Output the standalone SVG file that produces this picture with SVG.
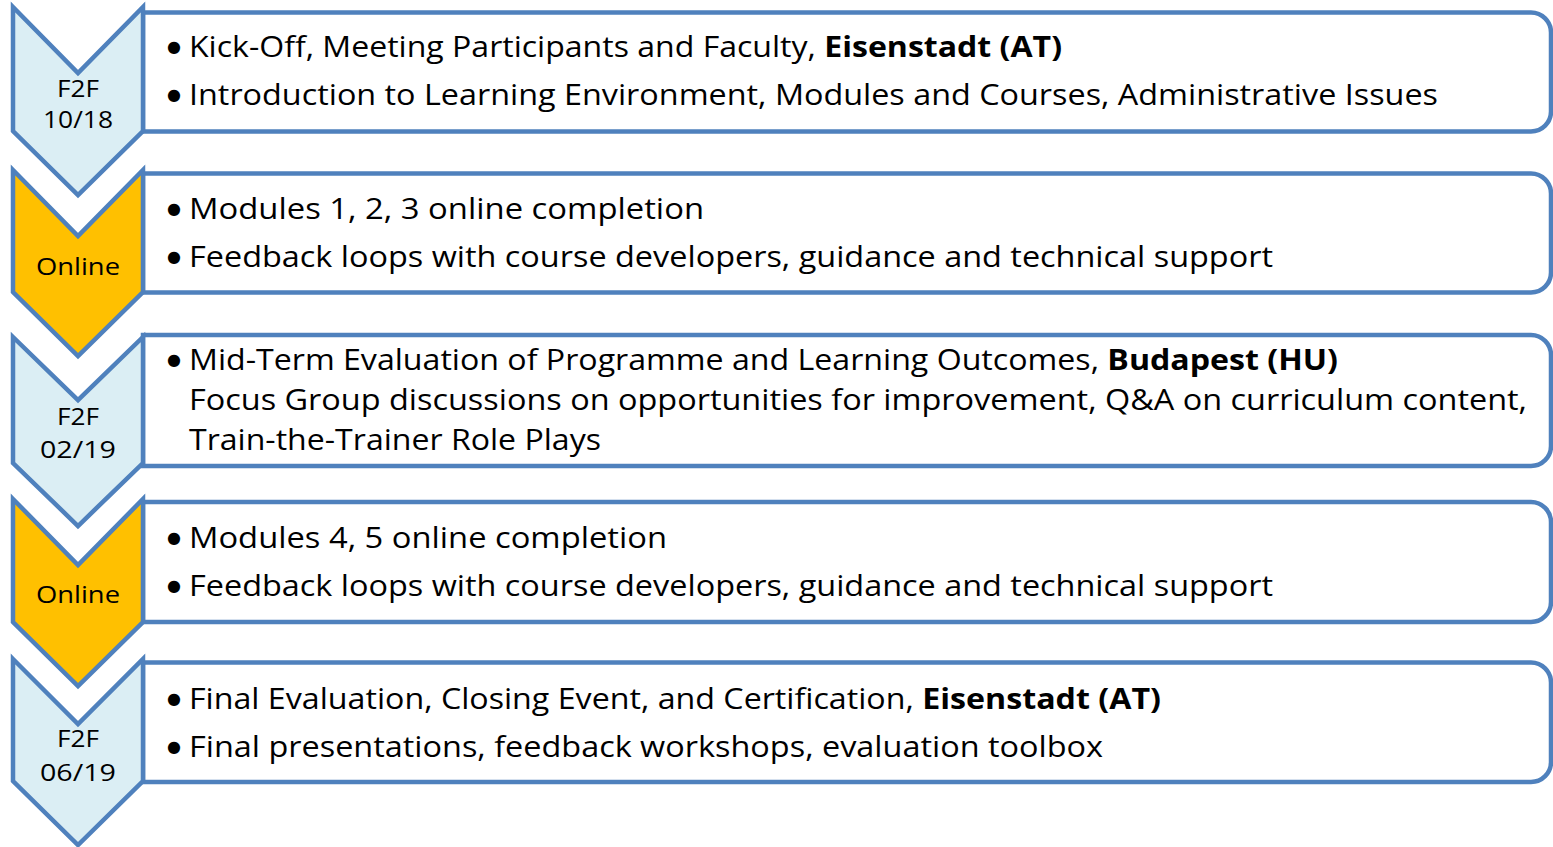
<svg xmlns="http://www.w3.org/2000/svg" width="1553" height="847" viewBox="0 0 1553 847">
<style>
.box{fill:#ffffff;stroke:#4F81BD;stroke-width:4.5;stroke-linejoin:miter}
.chev{stroke:#4F81BD;stroke-width:4.5;stroke-linejoin:miter}
.f2f{fill:#DBEEF4}
.onl{fill:#FFC000}
.t{font-family:"Open Sans","Noto Sans","Liberation Sans",sans-serif;font-size:29px;fill:#000}
.bu{font-family:"DejaVu Sans",sans-serif;font-size:16px;fill:#000}
.lbl{font-family:"Open Sans","Noto Sans","Liberation Sans",sans-serif;font-size:24px;fill:#000;text-anchor:middle}
.b{font-weight:bold}
</style>
<rect width="1553" height="847" fill="#ffffff"/>
<g id="connectors"/>
<g id="step1">
<path class="box" d="M143,12.5 H1531 A20,20 0 0 1 1551,32.5 V111.5 A20,20 0 0 1 1531,131.5 H143 Z"/>
<path class="chev f2f" d="M13,7 L78,73 L143,7 L143,131 L78,195 L13,131 Z"/>
<text class="lbl" x="78" y="97" textLength="42" lengthAdjust="spacingAndGlyphs">F2F</text>
<text class="lbl" x="78" y="128" textLength="70" lengthAdjust="spacingAndGlyphs">10/18</text>
<text class="bu" x="167" y="52">●</text>
<text class="t" x="189" y="57" textLength="873" lengthAdjust="spacingAndGlyphs">Kick-Off, Meeting Participants and Faculty, <tspan class="b">Eisenstadt (AT)</tspan></text>
<text class="bu" x="167" y="100">●</text>
<text class="t" x="189" y="105" textLength="1249" lengthAdjust="spacingAndGlyphs">Introduction to Learning Environment, Modules and Courses, Administrative Issues</text>
</g>
<g id="step2">
<path class="box" d="M143,173.5 H1531 A20,20 0 0 1 1551,193.5 V272.5 A20,20 0 0 1 1531,292.5 H143 Z"/>
<path class="chev onl" d="M13,170 L78,236 L143,170 L143,292 L78,356 L13,292 Z"/>
<text class="lbl" x="78" y="275" textLength="84" lengthAdjust="spacingAndGlyphs">Online</text>
<text class="bu" x="167" y="214">●</text>
<text class="t" x="189" y="219" textLength="515" lengthAdjust="spacingAndGlyphs">Modules 1, 2, 3 online completion</text>
<text class="bu" x="167" y="262">●</text>
<text class="t" x="189" y="267" textLength="1084" lengthAdjust="spacingAndGlyphs">Feedback loops with course developers, guidance and technical support</text>
</g>
<g id="step3">
<path class="box" d="M143,335 H1531 A20,20 0 0 1 1551,355 V446 A20,20 0 0 1 1531,466 H143 Z"/>
<path class="chev f2f" d="M13,337 L78,400 L143,337 L143,463 L78,526 L13,463 Z"/>
<text class="lbl" x="78" y="425" textLength="42" lengthAdjust="spacingAndGlyphs">F2F</text>
<text class="lbl" x="78" y="458" textLength="76" lengthAdjust="spacingAndGlyphs">02/19</text>
<text class="bu" x="167" y="365">●</text>
<text class="t" x="189" y="370" textLength="1149" lengthAdjust="spacingAndGlyphs">Mid-Term Evaluation of Programme and Learning Outcomes, <tspan class="b">Budapest (HU)</tspan></text>
<text class="t" x="189" y="410" textLength="1338" lengthAdjust="spacingAndGlyphs">Focus Group discussions on opportunities for improvement, Q&amp;A on curriculum content,</text>
<text class="t" x="189" y="450" textLength="412" lengthAdjust="spacingAndGlyphs">Train-the-Trainer Role Plays</text>
</g>
<g id="step4">
<path class="box" d="M143,502 H1531 A20,20 0 0 1 1551,522 V602 A20,20 0 0 1 1531,622 H143 Z"/>
<path class="chev onl" d="M13,499 L78,565 L143,499 L143,622 L78,686 L13,622 Z"/>
<text class="lbl" x="78" y="603" textLength="84" lengthAdjust="spacingAndGlyphs">Online</text>
<text class="bu" x="167" y="543">●</text>
<text class="t" x="189" y="548" textLength="478" lengthAdjust="spacingAndGlyphs">Modules 4, 5 online completion</text>
<text class="bu" x="167" y="591">●</text>
<text class="t" x="189" y="596" textLength="1084" lengthAdjust="spacingAndGlyphs">Feedback loops with course developers, guidance and technical support</text>
</g>
<g id="step5">
<path class="box" d="M143,662.5 H1531 A20,20 0 0 1 1551,682.5 V762 A20,20 0 0 1 1531,782 H143 Z"/>
<path class="chev f2f" d="M13,659 L78,724 L143,659 L143,781 L78,845 L13,781 Z"/>
<text class="lbl" x="78" y="747" textLength="42" lengthAdjust="spacingAndGlyphs">F2F</text>
<text class="lbl" x="78" y="781" textLength="76" lengthAdjust="spacingAndGlyphs">06/19</text>
<text class="bu" x="167" y="704">●</text>
<text class="t" x="189" y="709" textLength="972" lengthAdjust="spacingAndGlyphs">Final Evaluation, Closing Event, and Certification, <tspan class="b">Eisenstadt (AT)</tspan></text>
<text class="bu" x="167" y="752">●</text>
<text class="t" x="189" y="757" textLength="914" lengthAdjust="spacingAndGlyphs">Final presentations, feedback workshops, evaluation toolbox</text>
</g>
</svg>
